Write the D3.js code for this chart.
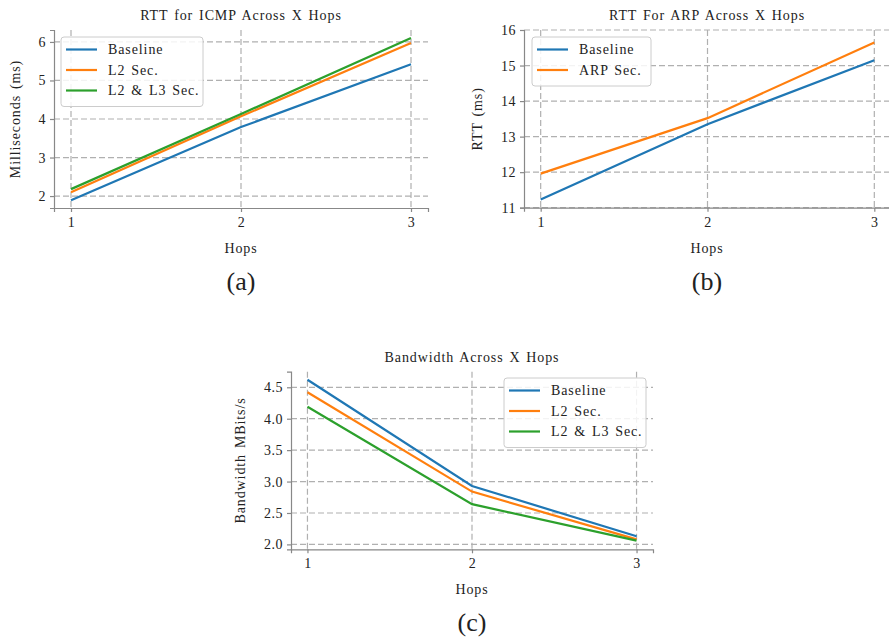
<!DOCTYPE html>
<html>
<head>
<meta charset="utf-8">
<script src="https://cdn.jsdelivr.net/npm/d3@7"></script>
<style>
  body { margin: 0; background: #fff; }
  svg text { font-family: "Liberation Serif", "DejaVu Serif", serif; fill: #222; }
  svg text.lbl { letter-spacing: 0.9px; word-spacing: 1.5px; }
</style>
</head>
<body>
<script>
// data
var hops = [1, 2, 3];

var icmpBaseline = [1.89, 3.79, 5.42];
var icmpL2 = [2.10, 4.07, 5.97];
var icmpL2L3 = [2.18, 4.13, 6.10];
var icmpTicks = [2, 3, 4, 5, 6];

var arpBaseline = [11.23, 13.35, 15.15];
var arpSec = [11.96, 13.52, 15.65];
var arpTicks = [11, 12, 13, 14, 15, 16];

var bwBaseline = [4.62, 2.93, 2.13];
var bwL2 = [4.42, 2.84, 2.08];
var bwL2L3 = [4.19, 2.64, 2.06];
var bwTicks = [2.0, 2.5, 3.0, 3.5, 4.0, 4.5];

var colors = ["#1f77b4", "#ff7f0e", "#2ca02c"];

var svg = d3.select("body").append("svg")
  .attr("width", 889)
  .attr("height", 638);

// one matplotlib-ish panel
function panel(p) {
  var x = d3.scaleLinear().domain([0.9, 3.1]).range([p.left, p.right]);
  var y = d3.scaleLinear().domain(p.ydom).range([p.bottom, p.top]);
  var g = svg.append("g");

  // grid
  g.selectAll(".gx").data(hops).enter().append("line")
    .attr("x1", d => x(d)).attr("x2", d => x(d))
    .attr("y1", p.top).attr("y2", p.bottom)
    .attr("stroke", "#b0b0b0").attr("stroke-width", 1.2).attr("stroke-dasharray", "6,3");
  g.selectAll(".gy").data(p.yticks).enter().append("line")
    .attr("x1", p.left).attr("x2", p.right)
    .attr("y1", d => y(d)).attr("y2", d => y(d))
    .attr("stroke", "#b0b0b0").attr("stroke-width", 1.2).attr("stroke-dasharray", "6,3");

  // axes
  var xa = d3.axisBottom(x).tickValues(hops).tickSize(4).tickPadding(5).tickFormat(d3.format("d"));
  var ya = d3.axisLeft(y).tickValues(p.yticks).tickSize(4).tickPadding(4).tickFormat(p.fmt);
  var gx = g.append("g").attr("transform", "translate(0," + p.bottom + ")").call(xa);
  var gy = g.append("g").attr("transform", "translate(" + p.left + ",0)").call(ya);
  [gx, gy].forEach(function(a) {
    a.select(".domain").attr("stroke", "#888").attr("stroke-width", 1.2);
    a.selectAll(".tick line").attr("stroke", "#888").attr("stroke-width", 1.2);
    a.selectAll(".tick text").style("font-family", "Liberation Serif").style("font-size", "14px")
      .style("letter-spacing", "0.5px").attr("fill", "#222");
  });

  // lines
  var line = d3.line().x((d, i) => x(hops[i])).y(d => y(d));
  p.series.forEach(function(s, i) {
    g.append("path").datum(s).attr("d", line)
      .attr("fill", "none").attr("stroke", colors[i]).attr("stroke-width", 2.2);
  });

  // texts
  var cx = p.titleX;
  g.append("text").attr("class", "lbl").attr("x", cx).attr("y", p.top - 10)
    .attr("text-anchor", "middle").style("font-size", "14px").text(p.title);
  g.append("text").attr("class", "lbl").attr("x", cx).attr("y", p.bottom + 45)
    .attr("text-anchor", "middle").style("font-size", "14px").text("Hops");
  g.append("text").attr("class", "lbl")
    .attr("transform", "translate(" + p.ylabX + "," + ((p.top + p.bottom) / 2) + ") rotate(-90)")
    .attr("text-anchor", "middle").attr("dominant-baseline", "central")
    .style("font-size", "14px").text(p.ylabel);
  g.append("text").attr("x", cx).attr("y", p.bottom + 82)
    .attr("text-anchor", "middle").style("font-size", "26px").text(p.caption);

  // legend
  var lg = g.append("g").attr("transform", "translate(" + p.leg[0] + "," + p.leg[1] + ")");
  lg.append("rect").attr("width", p.leg[2]).attr("height", 8 + p.names.length * 20.5)
    .attr("rx", 3).attr("fill", "white").attr("fill-opacity", 0.85)
    .attr("stroke", "#ccc").attr("stroke-width", 1);
  p.names.forEach(function(n, i) {
    var yy = 12.5 + i * 20.5;
    lg.append("line").attr("x1", 5).attr("x2", 36).attr("y1", yy).attr("y2", yy)
      .attr("stroke", colors[i]).attr("stroke-width", 2.2);
    lg.append("text").attr("class", "lbl").attr("x", 47).attr("y", yy).attr("dominant-baseline", "central")
      .style("font-size", "14px").text(n);
  });
}

panel({
  left: 54, right: 428, top: 30, bottom: 208,
  ydom: [1.69, 6.31], yticks: icmpTicks, fmt: d3.format("d"),
  series: [icmpBaseline, icmpL2, icmpL2L3],
  names: ["Baseline", "L2 Sec.", "L2 & L3 Sec."],
  title: "RTT for ICMP Across X Hops", ylabel: "Milliseconds (ms)", ylabX: 15,
  caption: "(a)", titleX: 241, leg: [61, 37, 142]
});

panel({
  left: 524, right: 891, top: 30, bottom: 207.7,
  ydom: [11, 16], yticks: arpTicks, fmt: d3.format("d"),
  series: [arpBaseline, arpSec],
  names: ["Baseline", "ARP Sec."],
  title: "RTT For ARP Across X Hops", ylabel: "RTT (ms)", ylabX: 477,
  caption: "(b)", titleX: 707, leg: [532, 37, 119]
});

panel({
  left: 291, right: 653, top: 371.7, bottom: 549.3,
  ydom: [1.922, 4.748], yticks: bwTicks, fmt: d3.format(".1f"),
  series: [bwBaseline, bwL2, bwL2L3],
  names: ["Baseline", "L2 Sec.", "L2 & L3 Sec."],
  title: "Bandwidth Across X Hops", ylabel: "Bandwidth MBits/s", ylabX: 240,
  caption: "(c)", titleX: 472, leg: [504, 378, 142]
});
</script>
</body>
</html>
